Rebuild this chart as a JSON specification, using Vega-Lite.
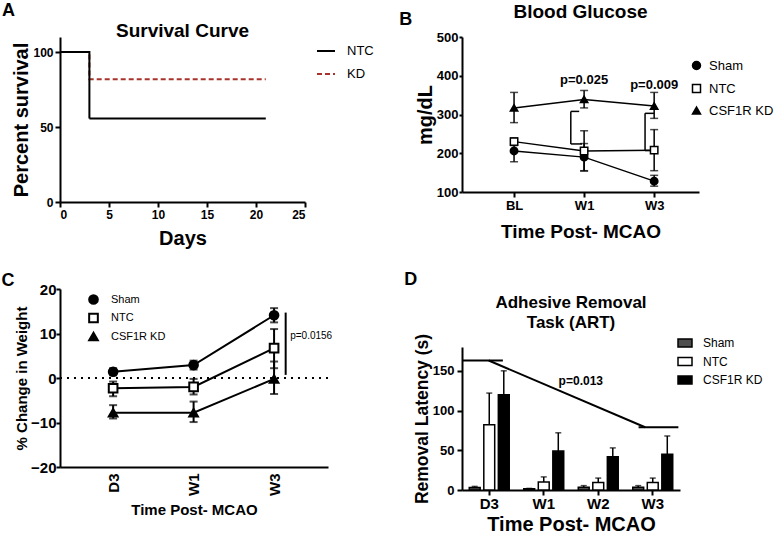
{
  "$schema": "https://vega.github.io/schema/vega-lite/v6.json",
  "padding": {"left": 1, "top": 2, "right": 0, "bottom": 0},
  "background": "white",
  "config": {
    "font": "Liberation Sans",
    "view": {"stroke": null},
    "axis": {"domainColor": "black", "domainWidth": 2, "tickColor": "black", "tickWidth": 2, "labelColor": "black", "labelFontWeight": "bold", "titleFontWeight": "bold", "titleColor": "black", "grid": false, "labelFont": "Liberation Sans", "titleFont": "Liberation Sans", "labelOverlap": false},
    "legend": {"labelFont": "Liberation Sans", "labelColor": "black", "padding": 0},
    "title": {"font": "Liberation Sans", "fontWeight": "bold", "color": "black"}
  },
  "resolve": {"scale": {"color": "independent", "strokeDash": "independent", "shape": "independent", "fill": "independent"}, "legend": {"color": "independent", "strokeDash": "independent", "shape": "independent", "fill": "independent"}},
  "spacing": 25,
  "hconcat": [
    {
      "spacing": 24,
      "resolve": {"scale": {"color": "independent", "strokeDash": "independent", "shape": "independent", "fill": "independent"}, "legend": {"color": "independent", "strokeDash": "independent", "shape": "independent", "fill": "independent"}},
      "vconcat": [
        {
          "title": {"text": "A", "anchor": "start", "fontSize": 18, "dx": -10, "offset": 2},
          "resolve": {"scale": {"color": "independent", "strokeDash": "independent"}, "legend": {"color": "independent", "strokeDash": "independent"}},
          "vconcat": [
            {
              "title": {"text": "Survival  Curve", "fontSize": 19, "offset": -4},
              "width": 245,
              "height": 165,
              "data": {"values": [
                {"group": "NTC", "day": 0, "pct": 100},
                {"group": "NTC", "day": 3, "pct": 55.6},
                {"group": "NTC", "day": 21, "pct": 55.6},
                {"group": "KD", "day": 0, "pct": 100},
                {"group": "KD", "day": 3, "pct": 81.8},
                {"group": "KD", "day": 21, "pct": 81.8}
              ]},
              "encoding": {
                "x": {"field": "day", "type": "quantitative", "scale": {"domain": [0, 25], "nice": false, "zero": false},
                  "axis": {"values": [0, 5, 10, 15, 20, 25], "title": "Days", "titleFontSize": 20, "labelFontSize": 12, "tickSize": 5, "labelPadding": 2, "titlePadding": 8}},
                "y": {"field": "pct", "type": "quantitative", "scale": {"domain": [0, 110], "nice": false},
                  "axis": {"values": [0, 50, 100], "title": "Percent survival", "titleFontSize": 20, "labelFontSize": 12, "tickSize": 5, "labelPadding": 2, "titlePadding": 1}},
                "color": {"field": "group", "type": "nominal", "scale": {"domain": ["NTC", "KD"], "range": ["#000000", "#a8322d"]},
                  "legend": {"title": null, "orient": "none", "legendX": 256, "legendY": 4, "labelFontSize": 13, "symbolType": "stroke", "symbolStrokeWidth": 2, "symbolSize": 324, "rowPadding": 6, "labelOffset": 11}},
                "strokeDash": {"field": "group", "type": "nominal", "scale": {"domain": ["NTC", "KD"], "range": [[1, 0], [5, 3]]},
                  "legend": {"title": null, "orient": "none", "legendX": 256, "legendY": 4, "labelFontSize": 13, "symbolType": "stroke", "symbolStrokeWidth": 2, "symbolSize": 324, "rowPadding": 6, "labelOffset": 11}}
              },
              "layer": [
                {
                  "transform": [{"filter": "datum.group === 'KD'"}],
                  "mark": {"type": "line", "interpolate": "step-after", "strokeWidth": 2}
                },
                {
                  "transform": [{"filter": "datum.group === 'NTC'"}],
                  "mark": {"type": "line", "interpolate": "step-after", "strokeWidth": 2}
                }
              ]
            }
          ]
        },
        {
          "title": {"text": "C", "anchor": "start", "fontSize": 18, "dx": -13, "offset": -8},
          "resolve": {"scale": {"shape": "independent", "fill": "independent"}, "legend": {"shape": "independent", "fill": "independent"}},
          "vconcat": [
            {
              "width": 268,
              "height": 178,
              "data": {"values": [
                {"group": "Sham", "time": 1, "mean": 1.4, "lo": 0.6, "hi": 2.2},
                {"group": "Sham", "time": 2, "mean": 2.9, "lo": 1.9, "hi": 3.9},
                {"group": "Sham", "time": 3, "mean": 14.1, "lo": 12.5, "hi": 15.7},
                {"group": "NTC", "time": 1, "mean": -2.3, "lo": -4.1, "hi": -0.8},
                {"group": "NTC", "time": 2, "mean": -2.0, "lo": -3.7, "hi": -0.2},
                {"group": "NTC", "time": 3, "mean": 6.7, "lo": 2.2, "hi": 11.0},
                {"group": "CSF1R KD", "time": 1, "mean": -7.8, "lo": -9.1, "hi": -6.1},
                {"group": "CSF1R KD", "time": 2, "mean": -7.8, "lo": -9.9, "hi": -5.3},
                {"group": "CSF1R KD", "time": 3, "mean": -0.2, "lo": -3.6, "hi": 3.7}
              ]},
              "layer": [
                {
                  "mark": {"type": "rule", "color": "black", "strokeWidth": 2},
                  "encoding": {
                    "x": {"field": "time", "type": "quantitative", "scale": {"domain": [0.34, 3.67], "nice": false, "zero": false},
                      "axis": {"values": [1, 2, 3], "labelExpr": "datum.value == 1 ? 'D3' : datum.value == 2 ? 'W1' : 'W3'", "labelAngle": 270, "title": "Time Post- MCAO", "titleFontSize": 15, "labelFontSize": 15, "ticks": false, "labelPadding": 6, "titlePadding": 7}},
                    "y": {"field": "lo", "type": "quantitative", "scale": {"domain": [-20, 20], "nice": false, "zero": false},
                      "axis": {"values": [-20, -10, 0, 10, 20], "title": "% Change in Weight", "titleFontSize": 15, "labelFontSize": 15, "tickSize": 4, "labelPadding": 0, "titlePadding": 1, "labelOverlap": false}},
                    "y2": {"field": "hi"}
                  }
                },
                {
                  "data": {"values": [{"zero": 0}]},
                  "mark": {"type": "rule", "color": "black", "strokeWidth": 2, "strokeDash": [2, 5]},
                  "encoding": {
                    "y": {"field": "zero", "type": "quantitative"}
                  }
                },
                {
                  "mark": {"type": "tick", "orient": "horizontal", "color": "black", "size": 8, "thickness": 2},
                  "encoding": {
                    "x": {"field": "time", "type": "quantitative"},
                    "y": {"field": "lo", "type": "quantitative"}
                  }
                },
                {
                  "mark": {"type": "tick", "orient": "horizontal", "color": "black", "size": 8, "thickness": 2},
                  "encoding": {
                    "x": {"field": "time", "type": "quantitative"},
                    "y": {"field": "hi", "type": "quantitative"}
                  }
                },
                {
                  "mark": {"type": "line", "color": "black", "strokeWidth": 2},
                  "encoding": {
                    "x": {"field": "time", "type": "quantitative"},
                    "y": {"field": "mean", "type": "quantitative"},
                    "detail": {"field": "group", "type": "nominal"}
                  }
                },
                {
                  "mark": {"type": "point", "stroke": "black", "strokeWidth": 2, "opacity": 1, "size": 75},
                  "encoding": {
                    "x": {"field": "time", "type": "quantitative"},
                    "y": {"field": "mean", "type": "quantitative"},
                    "shape": {"field": "group", "type": "nominal", "scale": {"domain": ["Sham", "NTC", "CSF1R KD"], "range": ["circle", "square", "triangle-up"]},
                      "legend": {"title": null, "orient": "none", "legendX": 28, "legendY": 5, "labelFontSize": 11, "symbolSize": 75, "symbolStrokeWidth": 2, "rowPadding": 1.5, "labelOffset": 12}},
                    "fill": {"field": "group", "type": "nominal", "scale": {"domain": ["Sham", "NTC", "CSF1R KD"], "range": ["black", "white", "black"]},
                      "legend": {"title": null, "orient": "none", "legendX": 28, "legendY": 5, "labelFontSize": 11, "symbolSize": 75, "symbolStrokeWidth": 2, "rowPadding": 1.5, "labelOffset": 12}}
                  }
                },
                {
                  "data": {"values": [{"px": 3.144, "py": 0.7, "py2": 14.7}]},
                  "mark": {"type": "rule", "color": "black", "strokeWidth": 2},
                  "encoding": {
                    "x": {"field": "px", "type": "quantitative"},
                    "y": {"field": "py", "type": "quantitative"},
                    "y2": {"field": "py2"}
                  }
                },
                {
                  "data": {"values": [{"px": 3.2, "py": 9.5, "label": "p=0.0156"}]},
                  "mark": {"type": "text", "align": "left", "fontSize": 10, "color": "black", "font": "Liberation Sans"},
                  "encoding": {
                    "x": {"field": "px", "type": "quantitative"},
                    "y": {"field": "py", "type": "quantitative"},
                    "text": {"field": "label"}
                  }
                }
              ]
            }
          ]
        }
      ]
    },
    {
      "spacing": 30,
      "resolve": {"scale": {"color": "independent", "strokeDash": "independent", "shape": "independent", "fill": "independent"}, "legend": {"color": "independent", "strokeDash": "independent", "shape": "independent", "fill": "independent"}},
      "vconcat": [
        {
          "title": {"text": "B", "anchor": "start", "fontSize": 18, "dx": -16, "offset": -26},
          "resolve": {"scale": {"shape": "independent", "fill": "independent"}, "legend": {"shape": "independent", "fill": "independent"}},
          "vconcat": [
            {
              "title": {"text": "Blood Glucose", "fontSize": 19, "offset": 9},
              "width": 237,
              "height": 155,
              "data": {"values": [
                {"group": "Sham", "time": 1, "mean": 206, "lo": 178, "hi": 234},
                {"group": "Sham", "time": 2, "mean": 190, "lo": 155, "hi": 225},
                {"group": "Sham", "time": 3, "mean": 128, "lo": 115, "hi": 143},
                {"group": "NTC", "time": 1, "mean": 230, "lo": 220, "hi": 240},
                {"group": "NTC", "time": 2, "mean": 206, "lo": 154, "hi": 258},
                {"group": "NTC", "time": 3, "mean": 208, "lo": 155, "hi": 261},
                {"group": "CSF1R KD", "time": 1, "mean": 317, "lo": 279, "hi": 357},
                {"group": "CSF1R KD", "time": 2, "mean": 339, "lo": 317, "hi": 362},
                {"group": "CSF1R KD", "time": 3, "mean": 322, "lo": 290, "hi": 357}
              ]},
              "layer": [
                {
                  "mark": {"type": "rule", "color": "black", "strokeWidth": 1.5},
                  "encoding": {
                    "x": {"field": "time", "type": "quantitative", "scale": {"domain": [0.257, 3.64], "nice": false, "zero": false},
                      "axis": {"values": [1, 2, 3], "labelExpr": "datum.value == 1 ? 'BL' : datum.value == 2 ? 'W1' : 'W3'", "title": "Time Post- MCAO", "titleFontSize": 19, "labelFontSize": 13, "tickSize": 5, "labelPadding": 2, "titlePadding": 10}},
                    "y": {"field": "lo", "type": "quantitative", "scale": {"domain": [100, 500], "nice": false, "zero": false},
                      "axis": {"values": [100, 200, 300, 400, 500], "title": "mg/dL", "titleFontSize": 20, "labelFontSize": 13, "tickSize": 3, "labelPadding": 1, "titlePadding": 1, "labelOverlap": false, "labelBound": false}},
                    "y2": {"field": "hi"}
                  }
                },
                {
                  "mark": {"type": "tick", "orient": "horizontal", "color": "black", "size": 8, "thickness": 1.5},
                  "encoding": {
                    "x": {"field": "time", "type": "quantitative"},
                    "y": {"field": "lo", "type": "quantitative", "axis": {"values": [100, 200, 300, 400, 500], "labelOverlap": false}}
                  }
                },
                {
                  "mark": {"type": "tick", "orient": "horizontal", "color": "black", "size": 8, "thickness": 1.5},
                  "encoding": {
                    "x": {"field": "time", "type": "quantitative"},
                    "y": {"field": "hi", "type": "quantitative", "axis": {"values": [100, 200, 300, 400, 500], "labelOverlap": false}}
                  }
                },
                {
                  "mark": {"type": "line", "color": "black", "strokeWidth": 1.5},
                  "encoding": {
                    "x": {"field": "time", "type": "quantitative"},
                    "y": {"field": "mean", "type": "quantitative", "axis": {"values": [100, 200, 300, 400, 500], "labelOverlap": false}},
                    "detail": {"field": "group", "type": "nominal"}
                  }
                },
                {
                  "mark": {"type": "point", "stroke": "black", "strokeWidth": 1.5, "opacity": 1, "size": 55},
                  "encoding": {
                    "x": {"field": "time", "type": "quantitative"},
                    "y": {"field": "mean", "type": "quantitative", "axis": {"values": [100, 200, 300, 400, 500], "labelOverlap": false}},
                    "shape": {"field": "group", "type": "nominal", "scale": {"domain": ["Sham", "NTC", "CSF1R KD"], "range": ["circle", "square", "triangle-up"]},
                      "legend": {"title": null, "orient": "none", "legendX": 228, "legendY": 22, "labelFontSize": 13, "symbolSize": 64, "symbolStrokeWidth": 1.5, "rowPadding": 8, "labelOffset": 6}},
                    "fill": {"field": "group", "type": "nominal", "scale": {"domain": ["Sham", "NTC", "CSF1R KD"], "range": ["black", "white", "black"]},
                      "legend": {"title": null, "orient": "none", "legendX": 228, "legendY": 22, "labelFontSize": 13, "symbolSize": 64, "symbolStrokeWidth": 1.5, "rowPadding": 8, "labelOffset": 6}}
                  }
                },
                {
                  "data": {"values": [
                    {"bx": 1.81, "bx2": 1.81, "by": 224, "by2": 308},
                    {"bx": 1.81, "bx2": 1.93, "by": 308, "by2": 308},
                    {"bx": 1.81, "bx2": 1.97, "by": 224, "by2": 224},
                    {"bx": 2.87, "bx2": 2.87, "by": 207, "by2": 303},
                    {"bx": 2.87, "bx2": 3.0, "by": 303, "by2": 303},
                    {"bx": 2.87, "bx2": 2.95, "by": 207, "by2": 207}
                  ]},
                  "mark": {"type": "rule", "color": "black", "strokeWidth": 1.5},
                  "encoding": {
                    "x": {"field": "bx", "type": "quantitative"},
                    "x2": {"field": "bx2"},
                    "y": {"field": "by", "type": "quantitative", "axis": {"values": [100, 200, 300, 400, 500], "labelOverlap": false}},
                    "y2": {"field": "by2"}
                  }
                },
                {
                  "data": {"values": [
                    {"tx": 2.0, "ty": 388, "label": "p=0.025"},
                    {"tx": 3.0, "ty": 375, "label": "p=0.009"}
                  ]},
                  "mark": {"type": "text", "fontSize": 13, "fontWeight": "bold", "color": "black", "font": "Liberation Sans"},
                  "encoding": {
                    "x": {"field": "tx", "type": "quantitative"},
                    "y": {"field": "ty", "type": "quantitative", "axis": {"values": [100, 200, 300, 400, 500], "labelOverlap": false}},
                    "text": {"field": "label"}
                  }
                }
              ]
            }
          ]
        },
        {
          "title": {"text": "D", "anchor": "start", "fontSize": 18, "dx": -9, "offset": 5},
          "resolve": {"scale": {"fill": "independent"}, "legend": {"fill": "independent"}},
          "vconcat": [
            {
              "title": {"text": ["Adhesive Removal", "Task (ART)"], "fontSize": 17, "lineHeight": 20, "offset": 1},
              "width": 218,
              "height": 143,
              "resolve": {"scale": {"x": "independent"}, "axis": {"x": "independent"}},
              "layer": [
                {
                  "data": {"values": [
                    {"group": "Sham", "time": "D3", "mean": 3, "hi": 4.5},
                    {"group": "Sham", "time": "W1", "mean": 1.5, "hi": 2},
                    {"group": "Sham", "time": "W2", "mean": 3.5, "hi": 5.5},
                    {"group": "Sham", "time": "W3", "mean": 3.5, "hi": 5.5},
                    {"group": "NTC", "time": "D3", "mean": 82, "hi": 122},
                    {"group": "NTC", "time": "W1", "mean": 10, "hi": 16.5},
                    {"group": "NTC", "time": "W2", "mean": 9.5, "hi": 15},
                    {"group": "NTC", "time": "W3", "mean": 9.5, "hi": 15},
                    {"group": "CSF1R KD", "time": "D3", "mean": 120, "hi": 150},
                    {"group": "CSF1R KD", "time": "W1", "mean": 49, "hi": 72},
                    {"group": "CSF1R KD", "time": "W2", "mean": 42, "hi": 53},
                    {"group": "CSF1R KD", "time": "W3", "mean": 45, "hi": 68}
                  ]},
                  "encoding": {
                    "x": {"field": "time", "type": "nominal", "sort": ["D3", "W1", "W2", "W3"], "scale": {"paddingInner": 0, "paddingOuter": 0},
                      "axis": {"labelAngle": 0, "title": "Time Post- MCAO", "titleFontSize": 20, "labelFontSize": 15, "tickSize": 5, "labelPadding": 1, "titlePadding": 3}},
                    "xOffset": {"field": "group", "type": "nominal", "sort": ["Sham", "NTC", "CSF1R KD"], "scale": {"paddingInner": 0.25, "paddingOuter": 0.5}}
                  },
                  "layer": [
                    {
                      "mark": {"type": "rule", "color": "black", "strokeWidth": 1.5},
                      "encoding": {
                        "y": {"field": "mean", "type": "quantitative", "scale": {"domain": [0, 180], "nice": false},
                          "axis": {"values": [0, 50, 100, 150], "title": "Removal Latency (s)", "titleFontSize": 17.5, "labelFontSize": 13, "tickSize": 5, "labelPadding": 3, "titlePadding": 1}},
                        "y2": {"field": "hi"}
                      }
                    },
                    {
                      "mark": {"type": "tick", "orient": "horizontal", "color": "black", "size": 6, "thickness": 1.5},
                      "encoding": {
                        "y": {"field": "hi", "type": "quantitative"}
                      }
                    },
                    {
                      "mark": {"type": "bar", "stroke": "black", "strokeWidth": 1.5},
                      "encoding": {
                        "y": {"field": "mean", "type": "quantitative"},
                        "fill": {"field": "group", "type": "nominal", "scale": {"domain": ["Sham", "NTC", "CSF1R KD"], "range": ["#4d4d4d", "white", "black"]},
                          "legend": {"title": null, "orient": "none", "legendX": 215, "legendY": -12, "labelFontSize": 12, "symbolType": "M-1,-0.57H1V0.57H-1Z", "symbolSize": 196, "symbolStrokeColor": "black", "symbolStrokeWidth": 1.5, "rowPadding": 3.5, "labelOffset": 10}}
                      }
                    }
                  ]
                },
                {
                  "layer": [
                    {
                      "data": {"values": [
                        {"ax": 0.01, "ax2": 0.75, "ay": 163, "ay2": 163},
                        {"ax": 0.49, "ax2": 3.36, "ay": 163, "ay2": 79},
                        {"ax": 3.24, "ax2": 3.97, "ay": 79, "ay2": 79}
                      ]},
                      "mark": {"type": "rule", "color": "black", "strokeWidth": 2},
                      "encoding": {
                        "x": {"field": "ax", "type": "quantitative", "scale": {"domain": [0, 4], "nice": false, "zero": false}, "axis": null},
                        "x2": {"field": "ax2"},
                        "y": {"field": "ay", "type": "quantitative"},
                        "y2": {"field": "ay2"}
                      }
                    },
                    {
                      "data": {"values": [{"ax": 2.18, "ay": 137, "label": "p=0.013"}]},
                      "mark": {"type": "text", "fontSize": 12, "fontWeight": "bold", "color": "black", "font": "Liberation Sans"},
                      "encoding": {
                        "x": {"field": "ax", "type": "quantitative", "axis": null},
                        "y": {"field": "ay", "type": "quantitative"},
                        "text": {"field": "label"}
                      }
                    }
                  ]
                }
              ]
            }
          ]
        }
      ]
    }
  ]
}
